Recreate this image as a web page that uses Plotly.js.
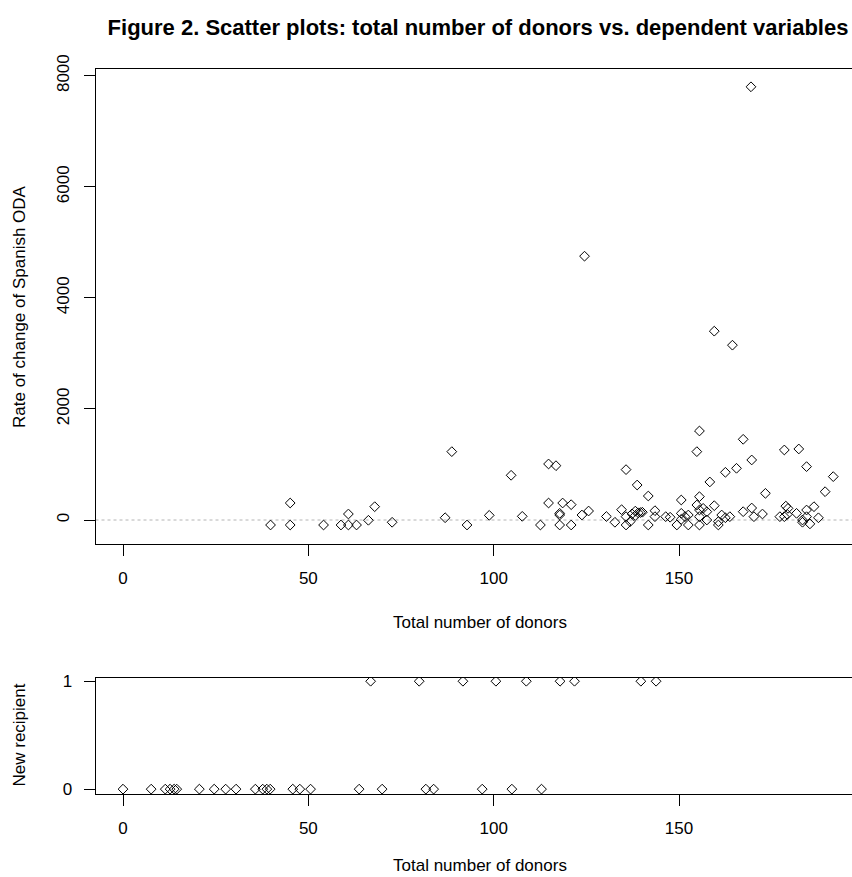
<!DOCTYPE html>
<html>
<head>
<meta charset="utf-8">
<script src="https://cdn.plot.ly/plotly-3.0.1.min.js"></script>
<style>
html,body{margin:0;padding:0;overflow:hidden;background:#fff;width:852px;height:877px;}
#chart{width:870px;height:877px;}
</style>
</head>
<body>
<div id="chart"></div>
<script>
// Top panel: total number of donors vs. rate of change of Spanish ODA
const donorsTop = [39.8,45.1,45.1,54.1,58.8,60.8,60.8,63.0,66.2,67.9,72.6,
  86.9,88.7,92.8,98.8,104.7,107.7,112.6,114.8,116.8,114.8,118.6,120.9,117.8,117.8,117.8,120.9,123.8,124.5,125.6,130.4,132.7,
  134.5,135.7,135.7,135.7,136.8,137.3,138.2,138.2,139.0,139.6,140.1,138.7,141.7,141.7,143.5,143.5,146.4,147.6,149.4,
  150.6,150.6,150.6,151.6,152.5,152.5,154.8,155.5,155.5,154.8,155.5,155.5,155.5,156.5,157.5,157.5,158.3,159.5,159.5,
  160.6,160.6,161.5,162.5,162.5,163.7,164.4,165.5,167.3,167.3,169.4,169.6,169.6,170.2,172.5,173.3,177.2,178.4,178.4,
  178.8,179.4,179.2,182.3,181.7,183.3,183.3,184.4,184.4,184.4,185.3,186.4,187.6,189.4,191.6];
const rateChangeODA = [-90,306,-90,-90,-90,108,-90,-90,-5,240,-41,
  41,1231,-90,84,805,66,-90,1009,978,306,306,276,120,90,-90,-90,90,4750,162,63,-41,
  186,907,60,-90,-30,110,160,80,130,135,140,630,432,-90,168,60,60,50,-90,
  360,120,12,60,90,-90,1231,1603,420,270,180,60,-90,210,150,0,685,258,3400,
  -30,-90,90,859,40,60,3148,931,1453,150,7800,1081,216,60,108,480,60,1261,60,
  250,210,100,1279,120,0,-40,961,180,60,-70,240,40,510,781];

// Bottom panel: total number of donors vs. new recipient (0/1)
const donorsBottom = [0,7.6,11.4,12.7,13.8,14.5,20.6,24.6,27.7,30.5,35.7,37.7,38.8,39.7,45.8,47.7,50.6,63.7,69.9,81.7,83.8,96.9,104.9,112.9,
  66.8,79.9,91.7,100.6,108.8,117.9,121.8,139.7,143.8];
const newRecipient = [0,0,0,0,0,0,0,0,0,0,0,0,0,0,0,0,0,0,0,0,0,0,0,0,
  1,1,1,1,1,1,1,1,1];

const xTicks = [0,50,100,150];
const yTicksTop = [0,2000,4000,6000,8000];
const yTicksBottom = [0,1];

const W = 870, H = 877;
const px = v => v / W;
const py = v => 1 - v / H;
const FONT = 'Liberation Sans, Arial, sans-serif';

const marker = {symbol:'diamond-open', size:7.5, color:'#000', line:{width:1, color:'#000'}};

const traces = [
  {x: donorsTop, y: rateChangeODA, type:'scatter', mode:'markers', marker: marker, xaxis:'x', yaxis:'y', hoverinfo:'x+y'},
  {x: donorsBottom, y: newRecipient, type:'scatter', mode:'markers', marker: marker, xaxis:'x2', yaxis:'y2', hoverinfo:'x+y'}
];

const xDom = [px(95.5), px(862)];
const xRange = [(95.5-123)/3.707, (862-123)/3.707];

const axBase = {
  showgrid:false, zeroline:false, showline:true, mirror:true, linecolor:'#000', linewidth:1,
  ticks:'outside', ticklen:11, tickwidth:1, tickcolor:'#000',
  tickfont:{family:FONT, size:17, color:'#000'}, ticklabelstandoff: 8
};

const layout = {
  width: W, height: H,
  margin:{l:0, r:0, t:0, b:0},
  paper_bgcolor:'#fff', plot_bgcolor:'#fff',
  showlegend:false,
  title:{text:'Figure 2. Scatter plots: total number of donors vs. dependent variables',
    font:{family:FONT, size:22, color:'#000', weight:'bold'},
    x: px(478), y: py(27), xanchor:'center', yanchor:'middle', xref:'paper', yref:'paper'},
  xaxis: Object.assign({}, axBase, {domain:xDom, range:xRange, tickvals:xTicks, anchor:'y'}),
  yaxis: Object.assign({}, axBase, {domain:[py(544), py(69.3)], range:[-432, 8115], tickvals:yTicksTop, tickangle:-90, anchor:'x'}),
  xaxis2: Object.assign({}, axBase, {domain:xDom, range:xRange, tickvals:xTicks, anchor:'y2'}),
  yaxis2: Object.assign({}, axBase, {domain:[py(794), py(678)], range:[-0.045, 1.03], tickvals:yTicksBottom, tickangle:0, anchor:'x2'}),
  shapes:[{type:'line', xref:'x domain', yref:'y', x0:0, x1:1, y0:0, y1:0, line:{color:'#b4b4b4', width:1, dash:'dot'}, layer:'below'}],
  annotations:[
    {text:'Rate of change of Spanish ODA', xref:'paper', yref:'paper', x:px(19.5), y:py(306.5), xanchor:'center', yanchor:'middle', textangle:-90, showarrow:false, font:{family:FONT, size:17, color:'#000'}},
    {text:'Total number of donors', xref:'paper', yref:'paper', x:px(480), y:py(622), xanchor:'center', yanchor:'middle', showarrow:false, font:{family:FONT, size:17, color:'#000'}},
    {text:'New recipient', xref:'paper', yref:'paper', x:px(18.5), y:py(735), xanchor:'center', yanchor:'middle', textangle:-90, showarrow:false, font:{family:FONT, size:17, color:'#000'}},
    {text:'Total number of donors', xref:'paper', yref:'paper', x:px(480), y:py(865), xanchor:'center', yanchor:'middle', showarrow:false, font:{family:FONT, size:17, color:'#000'}}
  ]
};

Plotly.newPlot('chart', traces, layout, {displayModeBar:false, staticPlot:true});
</script>
</body>
</html>
